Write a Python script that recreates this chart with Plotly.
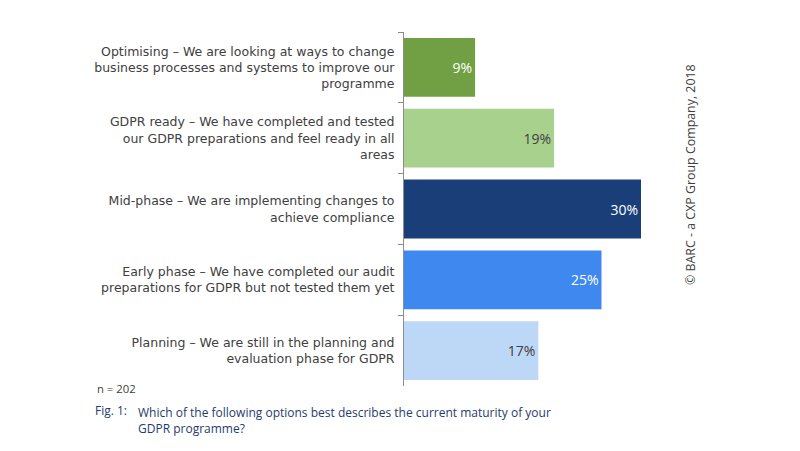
import plotly.graph_objects as go

categories = [
    "Optimising – We are looking at ways to change<br>business processes and systems to improve our<br>programme",
    "GDPR ready – We have completed and tested<br>our GDPR preparations and feel ready in all<br>areas",
    "Mid-phase – We are implementing changes to<br>achieve compliance",
    "Early phase – We have completed our audit<br>preparations for GDPR but not tested them yet",
    "Planning – We are still in the planning and<br>evaluation phase for GDPR",
]
values = [9, 19, 30, 25, 17]
labels = ["9%", "19%", "30%", "25%", "17%"]
bar_colors = ["#70A043", "#A9D18E", "#1A3F78", "#3F88F0", "#BDD7F7"]
label_colors = ["#FFFFFF", "#404040", "#FFFFFF", "#FFFFFF", "#404040"]

FONT = "Open Sans"
TICKFONT = "DejaVu Sans"

fig = go.Figure(go.Bar(
    x=values,
    y=categories,
    orientation="h",
    marker=dict(color=bar_colors, line=dict(width=0)),
    text=labels,
    textposition="inside",
    insidetextanchor="end",
    textfont=dict(family=FONT, size=14, color=label_colors),
    hoverinfo="skip",
))

L, R, T, B = 404, 159, 32, 65
PW, PH = 800 - L - R, 451 - T - B

def px(x):
    return (x - L) / PW

def py(y):
    return 1 - (y - T) / PH

fig.update_layout(
    width=800, height=451,
    margin=dict(l=L, r=R, t=T, b=B, autoexpand=False),
    paper_bgcolor="white", plot_bgcolor="white",
    showlegend=False,
    bargap=0.17,
    font=dict(family=FONT, color="#404040"),
)
fig.update_xaxes(range=[0, 30], visible=False, fixedrange=True, automargin=False)
fig.update_yaxes(
    autorange="reversed", automargin=False,
    showline=True, linecolor="#8C8C8C", linewidth=1,
    ticks="outside", ticklen=5, tickcolor="#8C8C8C", tickson="boundaries",
    tickfont=dict(family=TICKFONT, size=12.5, color="#404040"),
    ticklabelstandoff=6,
    showgrid=False, zeroline=False, fixedrange=True,
)

fig.add_annotation(text="n = 202", xref="paper", yref="paper",
                   x=px(95), y=py(388), xanchor="left", yanchor="middle",
                   showarrow=False, font=dict(family=FONT, size=11.3, color="#404040"))
fig.add_annotation(text="Fig. 1:", xref="paper", yref="paper",
                   x=px(93), y=py(410), xanchor="left", yanchor="middle",
                   showarrow=False, font=dict(family=FONT, size=12, color="#1F3B6E"))
fig.add_annotation(text="Which of the following options best describes the current maturity of your<br>GDPR programme?",
                   xref="paper", yref="paper", align="left",
                   x=px(136), y=py(402), xanchor="left", yanchor="top",
                   showarrow=False, font=dict(family=FONT, size=12, color="#1F3B6E"))
fig.add_annotation(text="© BARC - a CXP Group Company, 2018", xref="paper", yref="paper",
                   x=px(690), y=py(175), xanchor="center", yanchor="middle",
                   textangle=-90, showarrow=False, font=dict(family=FONT, size=12.4, color="#404040"))

fig.write_html("out.html", config={"displayModeBar": False},
               post_script="document.body.style.margin='0';document.body.style.overflow='hidden';")
